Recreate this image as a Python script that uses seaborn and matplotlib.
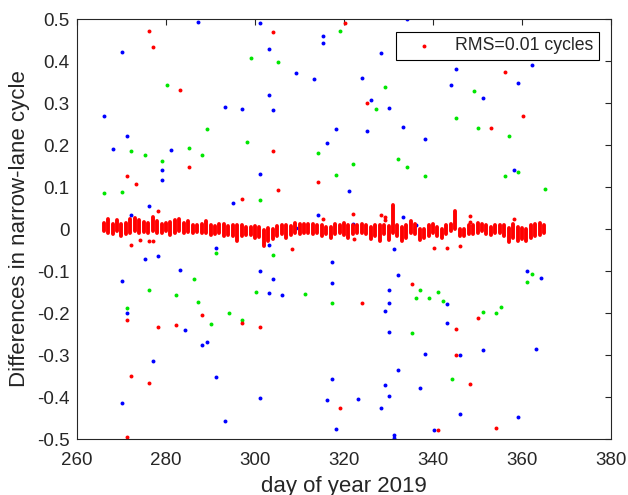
import matplotlib
matplotlib.use("Agg")
import matplotlib.pyplot as plt
import seaborn as sns

# days with narrow-lane differences (band of red strips)
band_days = list(range(266, 366))
band_hi = [0.015, 0.023, 0.013, 0.021, 0.013, 0.015, 0.025, 0.026, 0.021, 0.017,
           0.015, 0.029, 0.018, 0.013, 0.015, 0.017, 0.021, 0.025, 0.015, 0.018,
           0.010, 0.010, 0.013, 0.018, 0.010, 0.007, 0.013,
           0.013, 0.007, 0.010, 0.010, 0.009, 0.005, 0.005, 0.007, 0.006, -0.003,
           0.002, -0.001, 0.007, 0.009, 0.010, 0.007, 0.015, 0.013, 0.013, 0.013,
           0.013, 0.010, 0.009, 0.005, 0.005, 0.013, 0.010, 0.015,
           0.010, 0.009, 0.010, 0.013, 0.009, 0.005, 0.010, 0.009, 0.009, 0.007,
           0.058, 0.009, 0.005, 0.009, 0.018, 0.013, 0.001, -0.001, 0.009, 0.013,
           0.005, 0.001, 0.010, 0.011, 0.044, 0.001, 0.001, 0.009, 0.010,
           0.015, 0.013, 0.009, 0.005, 0.009, 0.010, 0.009, 0.002, 0.013, 0.005,
           0.002, 0.001, 0.009, 0.013, 0.015, 0.010]
band_lo = [-0.005, -0.009, -0.013, -0.005, -0.017, -0.013, -0.009, -0.005, -0.009, -0.006,
           -0.010, -0.005, -0.009, -0.009, -0.005, -0.015, -0.009, -0.005, -0.009, -0.006,
           -0.009, -0.006, -0.009, -0.010, -0.015, -0.013, -0.009,
           -0.017, -0.015, -0.017, -0.029, -0.017, -0.015, -0.015, -0.021, -0.018, -0.040,
           -0.029, -0.023, -0.017, -0.013, -0.021, -0.015, -0.009, -0.013, -0.010, -0.009,
           -0.013, -0.010, -0.017, -0.013, -0.021, -0.013, -0.009, -0.015,
           -0.021, -0.013, -0.009, -0.009, -0.013, -0.023, -0.017, -0.029, -0.013, -0.026,
           -0.009, -0.017, -0.029, -0.021, -0.009, -0.013, -0.025, -0.021, -0.017, -0.009,
           -0.017, -0.021, -0.013, -0.005, 0.000, -0.017, -0.017, -0.013, -0.013,
           -0.009, -0.005, -0.013, -0.015, -0.009, -0.009, -0.017, -0.031, -0.021, -0.029,
           -0.023, -0.029, -0.021, -0.017, -0.015, -0.009]

# outliers, red series
red_days = [271.2, 273.2, 276.2, 277.1, 278.1, 283.1, 285.2, 297.1, 304.1, 304.1,
            305.2, 314.2, 315.2, 320.2, 325.2, 353.1, 356.1, 360.2, 322.1, 328.2,
            348.2, 358.1, 329.2, 329.2, 348.2,
            272.1, 274.2, 276.2, 277.1, 271.2, 278.2, 282.2, 288.2, 297.1, 272.1,
            276.2, 271.2, 301.1, 308.2, 319.2, 340.2, 343.1, 346.1, 322.2, 324.1,
            335.2, 345.2, 350.2, 345.2, 348.2, 354.2, 341.2]
red_vals = [0.127, 0.107, 0.471, 0.434, 0.043, 0.331, 0.148, 0.071, 0.468, 0.186,
            0.093, 0.113, 0.023, 0.490, 0.299, 0.241, 0.375, 0.270, 0.035, 0.033,
            0.031, 0.024, 0.028, 0.021, 0.017,
            -0.037, -0.025, -0.028, -0.028, -0.217, -0.234, -0.228, -0.204, -0.224, -0.349,
            -0.367, -0.494, -0.234, -0.048, -0.425, -0.045, -0.045, -0.041, -0.024, -0.176,
            -0.132, -0.237, -0.212, -0.300, -0.369, -0.473, -0.479]

blue_days = [266.1, 268.2, 270.1, 271.2, 272.1, 276.2, 279.2, 279.2, 281.1, 287.1,
             293.2, 295.1, 297.1, 301.1, 301.1, 303.1, 303.1, 304.1, 309.2, 309.2,
             313.2, 314.2, 315.2, 315.2, 316.2, 318.1, 321.2, 334.2, 328.2, 324.1,
             326.1, 330.2, 325.2, 333.2, 338.1, 344.1, 345.1, 351.2, 359.2, 362.2,
             358.1, 333.2, 322.1, 336.2,
             275.2, 278.2, 270.1, 283.1, 271.2, 284.2, 288.2, 289.2, 277.1, 291.2,
             270.1, 293.2, 291.2, 301.1, 303.1, 304.1, 303.1, 306.1, 301.1, 317.2,
             317.2, 317.2, 316.2, 318.2, 331.2, 332.1, 330.2, 330.2, 329.1, 330.2,
             343.1, 343.1, 361.2, 364.2, 338.2, 346.1, 351.2, 363.1, 332.1, 329.1,
             330.2, 337.1, 323.1, 328.2, 346.1, 359.2, 340.2, 331.2, 331.2]
blue_vals = [0.270, 0.190, 0.421, 0.221, 0.033, 0.055, 0.140, 0.117, 0.188, 0.494,
             0.291, 0.062, 0.286, 0.490, 0.130, 0.428, 0.318, 0.283, 0.371, 0.002,
             0.356, 0.034, 0.460, 0.444, 0.206, 0.237, 0.090, 0.499, 0.419, 0.360,
             0.308, 0.287, 0.234, 0.244, 0.214, 0.343, 0.382, 0.311, 0.348, 0.390,
             0.141, 0.029, 0.011, 0.009,
             -0.072, -0.065, -0.124, -0.098, -0.200, -0.240, -0.276, -0.269, -0.314, -0.352,
             -0.414, -0.458, -0.045, -0.101, -0.039, -0.119, -0.152, -0.158, -0.403, -0.079,
             -0.128, -0.356, -0.406, -0.475, -0.048, -0.110, -0.144, -0.177, -0.196, -0.245,
             -0.179, -0.224, -0.101, -0.116, -0.298, -0.299, -0.288, -0.286, -0.335, -0.371,
             -0.398, -0.378, -0.405, -0.425, -0.440, -0.448, -0.479, -0.491, -0.497]

green_days = [266.1, 270.1, 272.1, 275.2, 279.2, 280.2, 285.2, 288.2, 289.1, 298.1,
              299.1, 301.1, 305.2, 314.2, 318.1, 319.2, 322.1, 327.2, 329.1, 332.1,
              334.2, 338.1, 345.1, 349.1, 350.1, 357.1, 359.2, 356.1, 365.2,
              276.2, 286.2, 282.2, 287.2, 271.2, 290.2, 294.2, 297.1, 291.2, 304.1,
              300.2, 311.2, 317.2, 337.1, 336.2, 339.2, 341.1, 342.2, 351.2, 354.2,
              355.2, 335.2, 362.2, 361.2, 344.2]
green_vals = [0.086, 0.087, 0.185, 0.177, 0.161, 0.342, 0.194, 0.176, 0.238, 0.208,
              0.406, 0.070, 0.398, 0.182, 0.129, 0.471, 0.156, 0.286, 0.337, 0.167,
              0.147, 0.126, 0.264, 0.328, 0.240, 0.221, 0.136, 0.126, 0.095,
              -0.144, -0.119, -0.156, -0.173, -0.187, -0.225, -0.200, -0.216, -0.057, -0.062,
              -0.149, -0.155, -0.177, -0.144, -0.163, -0.163, -0.150, -0.171, -0.198, -0.199,
              -0.186, -0.248, -0.106, -0.125, -0.357]

sns.set_style("white")
plt.rcParams['font.family'] = ['Liberation Sans', 'DejaVu Sans']

fig, ax = plt.subplots(figsize=(6.28, 4.95), dpi=100)
fig.subplots_adjust(left=0.1226, right=0.973, bottom=0.113, top=0.9616)

ms = 8
sns.scatterplot(x=blue_days, y=blue_vals, color=(0, 0, 1), s=ms, linewidth=0, ax=ax)
sns.scatterplot(x=green_days, y=green_vals, color=(0, 0.9, 0), s=ms, linewidth=0, ax=ax)
ax.vlines(band_days, band_lo, band_hi, color=(1, 0, 0), linewidth=2.8, capstyle='round')
sns.scatterplot(x=red_days, y=red_vals, color=(1, 0, 0), s=ms, linewidth=0, ax=ax,
                label="RMS=0.01 cycles")

ax.set_xlim(260, 380)
ax.set_ylim(-0.5, 0.5)
ax.set_xticks([260, 280, 300, 320, 340, 360, 380])
yt = [-0.5, -0.4, -0.3, -0.2, -0.1, 0, 0.1, 0.2, 0.3, 0.4, 0.5]
ax.set_yticks(yt)
ax.set_yticklabels(["0" if v == 0 else "%g" % v for v in yt])
ax.tick_params(direction='in', top=True, right=True, length=4, width=0.8,
               color=(0.15, 0.15, 0.15), labelsize=13.5)
ax.tick_params(axis='x', pad=9)
ax.tick_params(axis='y', pad=5.5)
for sp in ax.spines.values():
    sp.set_color((0.15, 0.15, 0.15))
    sp.set_linewidth(0.8)

ax.set_xlabel("day of year 2019", fontsize=16, labelpad=5)
ax.set_ylabel("Differences in narrow-lane cycle", fontsize=16, labelpad=5)

leg = ax.legend(loc='upper right', bbox_to_anchor=(0.9775, 0.969), borderaxespad=0,
                fontsize=12.7, frameon=True, fancybox=False, framealpha=1,
                edgecolor='black', handlelength=2.6, handletextpad=0.5,
                borderpad=0.3, markerscale=1.0)
leg.get_frame().set_linewidth(0.8)

plt.savefig("out.png", dpi=100)
